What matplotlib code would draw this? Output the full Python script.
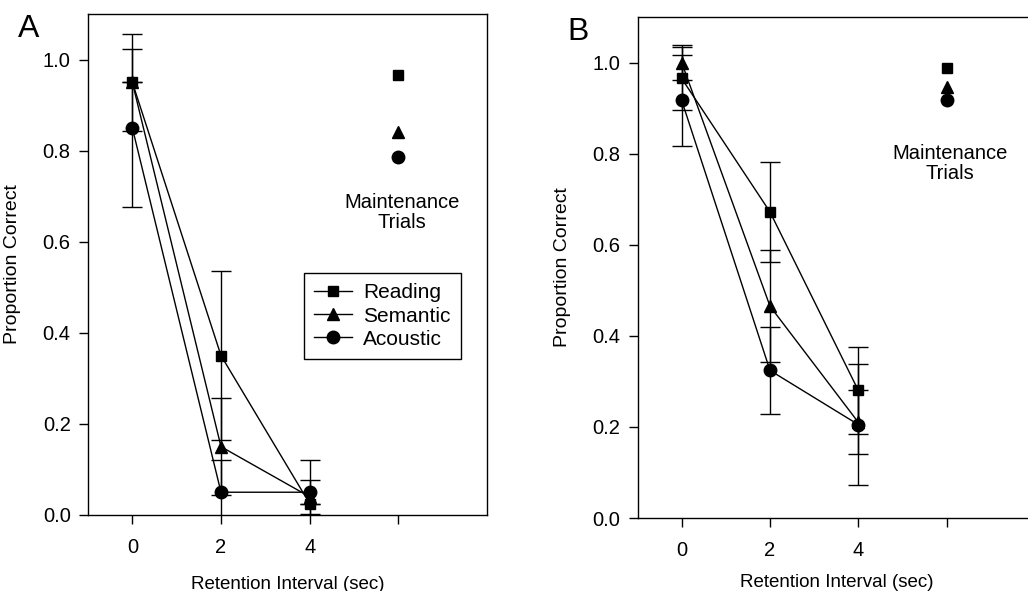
import matplotlib
matplotlib.use("Agg")
import matplotlib.pyplot as plt
from matplotlib.lines import Line2D

plt.rcParams['font.family'] = ['Liberation Sans', 'DejaVu Sans']

# ---------------- data ----------------
intervals = [0, 2, 4]
maint_x = 6
series_names = ["Reading", "Semantic", "Acoustic"]
markers = ["s", "^", "o"]

# Panel A
a_reading = [0.95, 0.35, 0.025]
a_reading_err = [0.107, 0.185, 0.0]
a_semantic = [0.95, 0.15, 0.04]
a_semantic_err = [0.0, 0.107, 0.037]
a_acoustic = [0.85, 0.05, 0.05]
a_acoustic_err = [0.173, 0.07, 0.07]
a_maint = [0.967, 0.842, 0.786]

# Panel B
b_reading = [0.965, 0.672, 0.28]
b_reading_err = [0.07, 0.11, 0.096]
b_semantic = [1.0, 0.465, 0.21]
b_semantic_err = [0.038, 0.123, 0.07]
b_acoustic = [0.917, 0.324, 0.205]
b_acoustic_err = [0.10, 0.096, 0.133]
b_maint = [0.989, 0.947, 0.918]

xticks = [0, 2, 4, 6]
xticklabels = ["0", "2", "4", ""]
yticks = [0.0, 0.2, 0.4, 0.6, 0.8, 1.0]
yticklabels = ["0.0", "0.2", "0.4", "0.6", "0.8", "1.0"]

xlabel = "Retention Interval (sec)"
ylabel = "Proportion Correct"
maint_text = "Maintenance\nTrials"

W, H = 1028, 591
fig = plt.figure(figsize=(W / 100, H / 100), dpi=100)

def px_axes(left, top, right, bottom):
    return fig.add_axes([left / W, 1 - bottom / H, (right - left) / W, (bottom - top) / H])

axA = px_axes(88, 14, 487, 515)
axB = px_axes(637.5, 17, 1035, 518)

msizes = {"s": 7.5, "^": 8.5, "o": 9}

def draw_panel(ax, vals, errs, maint, letter, maint_y, xlab_y, legend=False):
    for v, e, m in zip(vals, errs, markers):
        ax.errorbar(intervals, v, yerr=e, fmt="none", ecolor="black",
                    elinewidth=1.0, capsize=7.0, capthick=1.0, zorder=2)
    for v, m, name in zip(vals, markers, series_names):
        ax.plot(intervals, v, color="black", lw=1.0, marker=m,
                ms=msizes[m], mfc="black", mec="black", zorder=3, label=name,
                clip_on=False)
    for mv, m in zip(maint, markers):
        ax.plot([maint_x], [mv], ls="none", marker=m, ms=msizes[m],
                mfc="black", mec="black", zorder=3)
    ax.text(6.08, maint_y, maint_text, ha="center", va="center",
            fontsize=14.5, linespacing=1.05)
    ax.set_xlim(-1, 8)
    ax.set_ylim(0, 1.1)
    ax.set_xticks(xticks)
    ax.set_xticklabels(xticklabels)
    ax.set_yticks(yticks)
    ax.set_yticklabels(yticklabels)
    ax.tick_params(axis="both", direction="out", length=6.5, width=1.0,
                   labelsize=14.5, colors="black")
    ax.tick_params(axis="x", pad=10)
    ax.tick_params(axis="y", pad=6)
    for sp in ax.spines.values():
        sp.set_linewidth(1.0)
        sp.set_color("black")
    ax.set_xlabel(xlabel, fontsize=13.5)
    ax.set_ylabel(ylabel, fontsize=14)
    ax.xaxis.set_label_coords(0.5, xlab_y)
    ax.yaxis.set_label_coords(-0.168, 0.5)
    ax.text(-0.15, 0.97, letter, transform=ax.transAxes, fontsize=23,
            ha="center", va="center")
    if legend:
        handles = [Line2D([0], [0], color="black", lw=1.0, marker=m,
                          ms=msizes[m], mfc="black", mec="black")
                   for m in markers]
        leg = ax.legend(handles, series_names, loc="upper left",
                        bbox_to_anchor=(0.541, 0.483), borderaxespad=0,
                        fontsize=15, frameon=True, fancybox=False,
                        edgecolor="black", framealpha=1, handlelength=1.8,
                        handletextpad=0.55, labelspacing=0.2,
                        borderpad=0.5)
        leg.get_frame().set_linewidth(1.0)

draw_panel(axA, [a_reading, a_semantic, a_acoustic],
           [a_reading_err, a_semantic_err, a_acoustic_err], a_maint, "A",
           0.664, -0.121, legend=True)
draw_panel(axB, [b_reading, b_semantic, b_acoustic],
           [b_reading_err, b_semantic_err, b_acoustic_err], b_maint, "B",
           0.779, -0.112)

fig.savefig("out.png", dpi=100)
